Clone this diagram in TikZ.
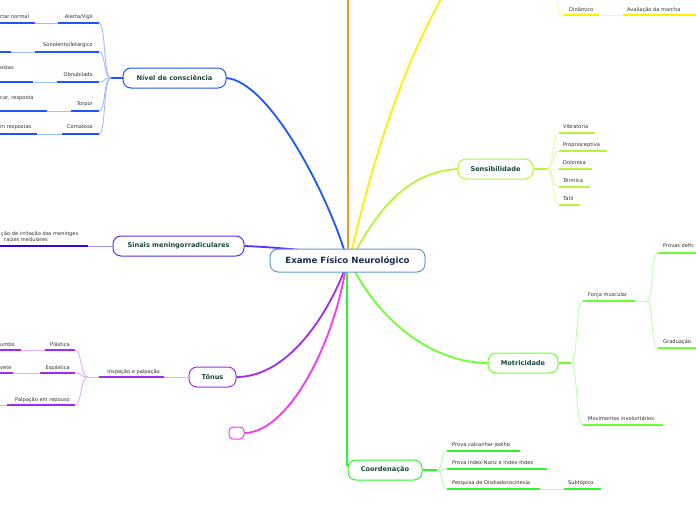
\documentclass[tikz,border=0pt]{standalone}
\usepackage{fontspec}
\setmainfont{DejaVu Sans}
\usetikzlibrary{backgrounds}
\definecolor{cblue}{HTML}{1F55FF}
\definecolor{cbluel}{HTML}{A3BCFF}
\definecolor{cviol}{HTML}{5A2DFF}
\definecolor{cviold}{HTML}{3F00E0}
\definecolor{cviol2}{HTML}{A690FF}
\definecolor{cpurp}{HTML}{A12BF0}
\definecolor{cpurpl}{HTML}{DDB0FF}
\definecolor{cmag}{HTML}{FF33F0}
\definecolor{corange}{HTML}{F7941D}
\definecolor{cyel}{HTML}{FFF000}
\definecolor{cyell}{HTML}{FFF8A8}
\definecolor{clime}{HTML}{B8F53A}
\definecolor{climel}{HTML}{E0FAA8}
\definecolor{cgreen}{HTML}{6CFF33}
\definecolor{cgreenl}{HTML}{C0FFA8}
\definecolor{cgr2}{HTML}{2EF52E}
\definecolor{cgr2l}{HTML}{A8FFA8}
\definecolor{ccenter}{HTML}{5C9BD5}
\definecolor{ctxt}{HTML}{1B4A40}
\definecolor{cctxt}{HTML}{1C2B52}
\definecolor{labtxt}{HTML}{2E2E2E}
\begin{document}
\begin{tikzpicture}[x=1pt,y=-1pt,
  box/.style={draw, fill=white, rounded corners=8pt, line width=1pt, minimum height=20pt, inner sep=0pt, font=\bfseries\fontsize{6.6}{7.5}\selectfont, text=ctxt},
  lab/.style={inner sep=0pt, font=\fontsize{5.1}{6}\selectfont, text=labtxt},
  dk/.style={line width=1.6pt},
  lt/.style={line width=0.9pt},
  br/.style={line width=1.8pt},
]
\useasboundingbox (0,0) rectangle (696,520);

% main nodes
\node[box, draw=ccenter, minimum width=155pt, minimum height=23pt, font=\bfseries\fontsize{8.6}{9.5}\selectfont, text=cctxt] (c) at (347.5,260.5) {Exame Físico Neurológico};
\node[box, draw=cblue, minimum width=103pt] (niv) at (174.5,78) {Nível de consciência};
\node[box, draw=cviol, minimum width=131pt] (sin) at (178.5,246) {Sinais meningorradiculares};
\node[box, draw=cpurp, minimum width=47pt] (ton) at (212.5,377) {Tônus};
\node[box, draw=cmag, minimum width=15pt, minimum height=12pt, rounded corners=4pt] (emp) at (236.5,433) {};
\node[box, draw=clime, minimum width=75pt] (sen) at (495.5,169) {Sensibilidade};
\node[box, draw=cgreen, minimum width=70pt] (mot) at (523,363) {Motricidade};
\node[box, draw=cgr2, minimum width=74pt] (coo) at (385,470) {Coordenação};

% main branches
\begin{scope}[on background layer]
\coordinate (ct) at (346,256);
\coordinate (cb) at (346,266);
\draw[br, corange, line width=2.6pt] (348,258) -- (348,0);
\draw[br, cyel] (350,258) .. controls (370,170) and (400,70) .. (445,-8);
\draw[br, cblue] (ct) .. controls (328,195) and (270,82) .. (niv.east);
\draw[br, cviol] (ct) .. controls (310,250) and (270,247) .. (sin.east);
\draw[br, clime] (352,258) .. controls (380,205) and (410,172) .. (sen.west);
\draw[br, cpurp] (cb) .. controls (330,310) and (290,377) .. (ton.east);
\draw[br, cmag] (cb) .. controls (335,340) and (290,432) .. (emp.east);
\draw[br, cgreen] (352,266) .. controls (385,330) and (440,363) .. (mot.west);
\draw[br, cgr2] (347,266) -- (347,466);
\end{scope}

% ---- Nivel de consciencia
\node[lab, anchor=base east] (n1) at (93,18) {Alerta/Vigil};
\node[lab, anchor=base east] (n2) at (93,46) {Sonolento/letárgico};
\node[lab, anchor=base east] (n3) at (93,76) {Obnubilado};
\node[lab, anchor=base east] (n4) at (93,105) {Torpor};
\node[lab, anchor=base east] (n5) at (93,128) {Comatoso};
\node[lab, anchor=base west] (m1) at (0,18) {rtar normal};
\node[lab, anchor=base west] (m3) at (0,69) {ostas};
\node[lab, anchor=base west] (m4) at (0,99) {car, resposta};
\node[lab, anchor=base west] (m5) at (0,128) {m respostas};
\coordinate (nj) at (111,78);
\draw[lt, cblue, line width=1.4pt] (niv.west) -- (nj);
\foreach \i/\y/\p/\q in {1/23/35/58, 2/52/11/35, 3/82/33/57, 4/111/47/71, 5/134/37/62}{
  \coordinate (nA\i) at (0,\y);
  \coordinate (nB\i) at (\p,\y);
  \coordinate (nC\i) at (\q,\y);
  \coordinate (nD\i) at (99,\y);
  \draw[dk, cblue] (nA\i) -- (nB\i);
  \draw[lt, cbluel] (nB\i) -- (nC\i);
  \draw[dk, cblue] (nC\i) -- (nD\i);
  \draw[lt, cbluel] (nj) .. controls (103,78) and (106,\y) .. (nD\i);
}

% ---- Sinais meningorradiculares
\node[lab, anchor=base west] (s1) at (1,235.7) {ção de irritação das meninges};
\node[lab, anchor=base west] (s2) at (4,241.3) {raízes medulares};
\coordinate (sA) at (0,246);
\coordinate (sB) at (88,246);
\draw[dk, cviold] (sA) -- (sB);
\draw[lt, cviol2] (sB) -- (sin.west);

% ---- Tonus
\node[lab, anchor=base east] (t0) at (160,373) {Inspeção e palpação};
\node[lab, anchor=base east] (t1) at (70,346) {Plástica};
\node[lab, anchor=base east] (t2) at (70,369) {Espástica};
\node[lab, anchor=base east] (t3) at (70,401) {Palpação em repouso};
\node[lab, anchor=base west] (u1) at (0,346) {umbo};
\node[lab, anchor=base west] (u2) at (0,369) {vete};
\coordinate (tA) at (164,377);
\coordinate (tB) at (99,377);
\coordinate (tj) at (88,377);
\draw[lt, cpurpl] (ton.west) -- (tA);
\draw[dk, cpurp] (tA) -- (tB);
\draw[lt, cpurpl] (tB) -- (tj);
\foreach \i/\y/\p/\q in {1/350/21/45, 2/373/13/40}{
  \coordinate (tP\i) at (0,\y);
  \coordinate (tQ\i) at (\p,\y);
  \coordinate (tR\i) at (\q,\y);
  \coordinate (tS\i) at (75,\y);
  \draw[dk, cpurp] (tP\i) -- (tQ\i);
  \draw[lt, cpurpl] (tQ\i) -- (tR\i);
  \draw[dk, cpurp] (tR\i) -- (tS\i);
  \draw[lt, cpurpl] (tj) .. controls (80,377) and (82,\y) .. (tS\i);
}
\coordinate (tP3) at (0,405);
\coordinate (tR3) at (7,405);
\coordinate (tS3) at (75,405);
\draw[lt, cpurpl] (tP3) -- (tR3);
\draw[dk, cpurp] (tR3) -- (tS3);
\draw[lt, cpurpl] (tj) .. controls (80,377) and (82,405) .. (tS3);

% ---- Top right (yellow)
\node[lab, anchor=base west] (y1) at (569,11) {Dinâmico};
\node[lab, anchor=base west] (y2) at (627,11) {Avaliação da marcha};
\coordinate (yT) at (557,-1);
\coordinate (yA) at (564,15);
\coordinate (yB) at (599,15);
\coordinate (yC) at (623,15);
\coordinate (yD) at (696,15);
\draw[lt, cyell, line width=1.1pt] (yT) .. controls (558,12) and (560,15) .. (yA);
\draw[dk, cyel] (yA) -- (yB);
\draw[lt, cyell] (yB) -- (yC);
\draw[dk, cyel] (yC) -- (yD);

% ---- Sensibilidade
\coordinate (ej) at (547,169);
\draw[dk, clime] (sen.east) -- (ej);
\foreach \i/\t/\b/\e in {1/Vibratória/128/595, 2/Proprioceptiva/146/607, 3/Dolorosa/164/592, 4/Térmica/182/590, 5/Tátil/200/580}{
  \node[lab, anchor=base west] (e\i) at (563,\b) {\t};
  \coordinate (eA\i) at (559,\b+5);
  \coordinate (eB\i) at (\e,\b+5);
  \draw[dk, clime] (eA\i) -- (eB\i);
  \draw[lt, climel] (ej) .. controls (554,169) and (552,\b+5) .. (eA\i);
}

% ---- Motricidade
\node[lab, anchor=base west] (o1) at (588,296) {Força muscular};
\node[lab, anchor=base west] (o2) at (588,420) {Movimentos involuntários};
\node[lab, anchor=base west] (o3) at (663,247) {Provas defic};
\node[lab, anchor=base west] (o4) at (663,343) {Graduação};
\coordinate (oj) at (571,363);
\draw[dk, cgreen] (mot.east) -- (oj);
\coordinate (oA1) at (583,301);
\coordinate (oB1) at (635,301);
\coordinate (oC1) at (647,301);
\coordinate (oA2) at (583,425);
\coordinate (oB2) at (663,425);
\coordinate (oA3) at (658,253);
\coordinate (oB3) at (696,253);
\coordinate (oA4) at (658,348);
\coordinate (oB4) at (696,348);
\draw[lt, cgreenl] (oj) .. controls (578,363) and (575,301) .. (oA1);
\draw[lt, cgreenl] (oj) .. controls (578,363) and (575,425) .. (oA2);
\draw[dk, cgreen] (oA1) -- (oB1);
\draw[lt, cgreenl] (oB1) -- (oC1);
\draw[dk, cgreen] (oA2) -- (oB2);
\draw[lt, cgreenl] (oC1) .. controls (654,301) and (650,253) .. (oA3);
\draw[lt, cgreenl] (oC1) .. controls (654,301) and (650,348) .. (oA4);
\draw[dk, cgreen] (oA3) -- (oB3);
\draw[dk, cgreen] (oA4) -- (oB4);

% ---- Coordenacao
\coordinate (kj) at (437,470);
\draw[dk, cgr2] (coo.east) -- (kj);
\foreach \i/\t/\b/\e in {1/Prova calcanhar-joelho/446/520, 2/Prova Index-Nariz e Index-Index/464/547, 3/Pesquisa de Disdiadococinesia/484/540}{
  \node[lab, anchor=base west] (k\i) at (452,\b) {\t};
  \coordinate (kA\i) at (447,\b+5);
  \coordinate (kB\i) at (\e,\b+5);
  \draw[dk, cgr2] (kA\i) -- (kB\i);
  \draw[lt, cgr2l] (kj) .. controls (443,470) and (441,\b+5) .. (kA\i);
}
\node[lab, anchor=base west] (k4) at (568,484) {Subtópico};
\coordinate (kC) at (564,489);
\coordinate (kD) at (601,489);
\draw[lt, cgr2l] (kB3) -- (kC);
\draw[dk, cgr2] (kC) -- (kD);
\end{tikzpicture}
\end{document}
